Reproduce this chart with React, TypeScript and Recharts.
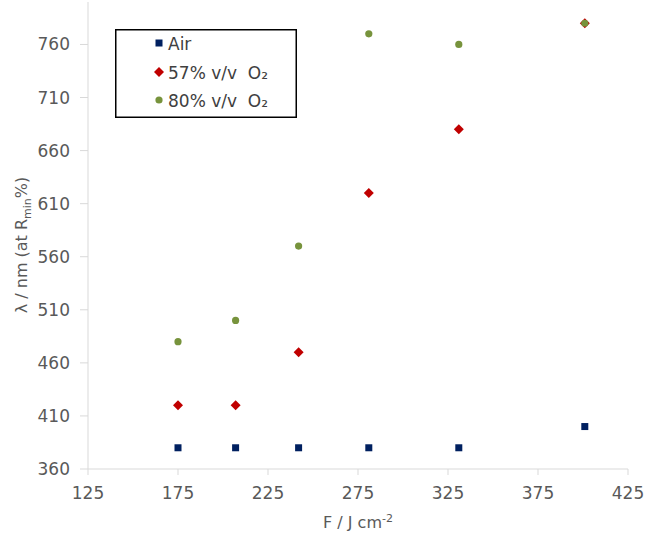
import React from 'react';
import { ScatterChart, Scatter, XAxis, YAxis } from 'recharts';

const fluence = [175, 207, 242, 281, 331, 401];
const airValues = [380, 380, 380, 380, 380, 400];
const o2Mid = [420, 420, 470, 620, 680, 780];
const o2High = [480, 500, 570, 770, 760, 780];
const xTicks = [125, 175, 225, 275, 325, 375, 425];
const yTicks = [360, 410, 460, 510, 560, 610, 660, 710, 760];

const seriesNames = ['Air', '57% v/v  O\u2082', '80% v/v  O\u2082'];
const colors = ['#002060', '#c00000', '#77933c'];

const toPoints = (vals: number[]) => fluence.map((x, i) => ({ x, y: vals[i] }));

const FONT = '"DejaVu Sans", Verdana, sans-serif';

const Square = (p: any) => (
  <rect x={p.cx - 3.5} y={p.cy - 3.5} width={7} height={7} fill={colors[0]} />
);
const Diamond = (p: any) => (
  <polygon
    points={`${p.cx},${p.cy - 5} ${p.cx + 5},${p.cy} ${p.cx},${p.cy + 5} ${p.cx - 5},${p.cy}`}
    fill={colors[1]}
  />
);
const Dot = (p: any) => <circle cx={p.cx} cy={p.cy} r={3.6} fill={colors[2]} />;

const LegendBox = () => {
  const rows = [14, 43, 71];
  return (
    <svg width={182} height={89} style={{ position: 'absolute', left: 115, top: 29 }}>
      <rect x={0.75} y={0.75} width={180.5} height={87.5} fill="#fff" stroke="#000" strokeWidth={1.5} />
      <Square cx={44} cy={rows[0]} />
      <Diamond cx={44} cy={rows[1]} />
      <Dot cx={44} cy={rows[2]} />
      {seriesNames.map((n, i) => (
        <text key={n} x={53} y={rows[i] + 6.5} fontSize={17} fill="#404040" fontFamily={FONT} style={{ whiteSpace: 'pre' }}>
          {n}
        </text>
      ))}
    </svg>
  );
};

const YLabel = () => (
  <text
    transform="translate(27, 245) rotate(-90)"
    textAnchor="middle"
    fontSize={16}
    fill="#595959"
    fontFamily={FONT}
  >
    {'\u03bb / nm (at R'}
    <tspan fontSize={11} dy={4}>min</tspan>
    <tspan dy={-4}>%)</tspan>
  </text>
);

const XLabel = () => (
  <text x={358} y={528} textAnchor="middle" fontSize={16} fill="#595959" fontFamily={FONT}>
    {'F / J cm'}
    <tspan fontSize={11} dy={-6}>-2</tspan>
  </text>
);

export default function App() {
  return (
    <div style={{ position: 'absolute', left: 0, top: 0, width: 645, height: 535, background: '#fff' }}>
      <ScatterChart width={645} height={535} margin={{ top: 2, right: 17, left: 0, bottom: 0 }}>
        <XAxis
          type="number"
          dataKey="x"
          domain={[125, 425]}
          ticks={xTicks}
          allowDataOverflow
          height={66}
          stroke="#d9d9d9"
          tickSize={6}
          tickMargin={12}
          tick={{ fill: '#595959', fontSize: 17, fontFamily: FONT }}
        />
        <YAxis
          type="number"
          dataKey="y"
          domain={[360, 800]}
          ticks={yTicks}
          allowDataOverflow
          width={88}
          stroke="#d9d9d9"
          tickSize={8}
          tickMargin={10}
          tick={{ fill: '#595959', fontSize: 17, fontFamily: FONT }}
        />
        <Scatter name={seriesNames[0]} data={toPoints(airValues)} shape={Square} isAnimationActive={false} />
        <Scatter name={seriesNames[1]} data={toPoints(o2Mid)} shape={Diamond} isAnimationActive={false} />
        <Scatter name={seriesNames[2]} data={toPoints(o2High)} shape={Dot} isAnimationActive={false} />
        <YLabel />
        <XLabel />
      </ScatterChart>
      <LegendBox />
    </div>
  );
}
